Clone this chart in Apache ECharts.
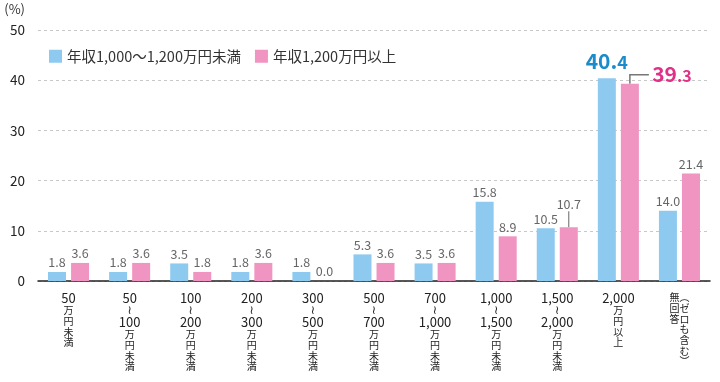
<!DOCTYPE html>
<html><head><meta charset="utf-8">
<script src="https://cdn.jsdelivr.net/npm/echarts@6/dist/echarts.min.js"></script>
<style>html,body{margin:0;padding:0;background:#fff}#c{width:720px;height:382px}</style>
</head><body><div id="c"></div>
<script>
// --- data ---
var categories = [
  ['50', '', '万円未満'],
  ['50', '100', '万円未満'],
  ['100', '200', '万円未満'],
  ['200', '300', '万円未満'],
  ['300', '500', '万円未満'],
  ['500', '700', '万円未満'],
  ['700', '1,000', '万円未満'],
  ['1,000', '1,500', '万円未満'],
  ['1,500', '2,000', '万円未満'],
  ['2,000', '', '万円以上'],
  ['', '', '無回答|︵ゼロも含む︶']
];
var seriesNames = ['年収1,000～1,200万円未満', '年収1,200万円以上'];
var blueValues = [1.8, 1.8, 3.5, 1.8, 1.8, 5.3, 3.5, 15.8, 10.5, 40.4, 14.0];
var pinkValues = [3.6, 3.6, 1.8, 3.6, 0.0, 3.6, 3.6, 8.9, 10.7, 39.3, 21.4];
var yTicks = [0, 10, 20, 30, 40, 50];

var BLUE = '#8ecaef', PINK = '#f094c1', BLUE_T = '#1b8cc9', PINK_T = '#e03088';
var FONT = "'Noto Sans CJK JP', 'Noto Sans', sans-serif";

function catLabel(i) {
  var c = categories[i];
  var parts = [];
  if (c[0] === '' && c[2].indexOf('|') >= 0) {
    var a = c[2].split('|');
    var left = a[0].split(''), right = a[1].split('');
    for (var k = 0; k < right.length; k++) {
      parts.push('{j|' + (left[k] || '　') + right[k] + '}');
    }
    return parts.join('\n');
  }
  parts.push('{n|' + c[0] + '}');
  if (c[1]) { parts.push('{w|≀}'); parts.push('{n|' + c[1] + '}'); }
  c[2].split('').forEach(function (ch) { parts.push('{j|' + ch + '}'); });
  return parts.join('\n');
}

var labelBase = { show: true, position: 'top', distance: 3, color: '#666', fontSize: 12.5, fontFamily: FONT,
  formatter: function (p) { return p.value.toFixed(1); } };

var blueData = blueValues.map(function (v, i) {
  if (i === 9) return { value: v, label: { show: true, distance: 7,
    formatter: '{a|40.}{b|4}', rich: { a: { fontSize: 21, fontWeight: 'bold', color: BLUE_T, fontFamily: FONT }, b: { fontSize: 18, fontWeight: 'bold', color: BLUE_T, fontFamily: FONT, padding: [2,0,0,0] } } } };
  return v;
});
var pinkData = pinkValues.map(function (v, i) {
  if (i === 9) return { value: v, label: { show: true, offset: [42, 4],
    formatter: '{a|39}{b|.3}', rich: { a: { fontSize: 21, fontWeight: 'bold', color: PINK_T, fontFamily: FONT }, b: { fontSize: 16, fontWeight: 'bold', color: PINK_T, fontFamily: FONT, padding: [4,0,0,0] } } } };
  if (i === 8) return { value: v, label: { offset: [0, -14] } };
  return v;
});

var chart = echarts.init(document.getElementById('c'), null, { renderer: 'canvas' });
chart.setOption({
  animation: false,
  textStyle: { fontFamily: FONT },
  legend: {
    left: 44, top: 44, itemWidth: 13, itemHeight: 13, itemGap: 14, icon: 'rect',
    textStyle: { fontSize: 14.5, color: '#333', fontFamily: FONT },
    data: seriesNames
  },
  grid: { left: 38, right: 10, top: 30, bottom: 101 },
  xAxis: {
    type: 'category', data: categories.map(function (c, i) { return i; }),
    axisTick: { show: false },
    axisLine: { lineStyle: { color: '#222', width: 1.5 } },
    axisLabel: {
      interval: 0, margin: 11, color: '#222',
      formatter: function (v, i) { return catLabel(i); },
      rich: {
        n: { fontSize: 13, lineHeight: 13, color: '#222', fontFamily: FONT },
        w: { fontSize: 12, lineHeight: 11, color: '#222', fontFamily: 'DejaVu Sans' },
        j: { fontSize: 10, lineHeight: 10.7, color: '#222', fontFamily: FONT }
      }
    }
  },
  yAxis: {
    type: 'value', min: yTicks[0], max: yTicks[yTicks.length - 1], interval: 10,
    name: '(%)', nameGap: 14,
    nameTextStyle: { align: 'right', padding: [0, 13, 0, 0], color: '#333', fontSize: 13, fontFamily: FONT },
    axisLine: { show: false }, axisTick: { show: false },
    axisLabel: { margin: 13, color: '#222', fontSize: 13.5, fontFamily: FONT },
    splitLine: { lineStyle: { type: [3, 3], color: '#c8c8c8' } }
  },
  series: [
    { name: seriesNames[0], type: 'bar', data: blueData, barWidth: 18, barGap: '28%',
      itemStyle: { color: BLUE }, label: labelBase },
    { name: seriesNames[1], type: 'bar', data: pinkData, barWidth: 18, barGap: '28%',
      itemStyle: { color: PINK }, label: labelBase }
  ]
});

// leader lines, positioned from the library's own bar layout
try {
  var pdata = chart.getModel().getSeriesByIndex(1).getData();
  var l9 = pdata.getItemLayout(9), l8 = pdata.getItemLayout(8);
  var cx9 = l9.x + l9.width / 2, top9 = Math.min(l9.y, l9.y + l9.height);
  var cx8 = l8.x + l8.width / 2, top8 = Math.min(l8.y, l8.y + l8.height);
  chart.setOption({ graphic: [
    { type: 'polyline', shape: { points: [[cx9, top9], [cx9, top9 - 9], [cx9 + 19, top9 - 9]] },
      style: { stroke: '#777', lineWidth: 1.5, fill: null } },
    { type: 'line', shape: { x1: cx8, y1: top8, x2: cx8, y2: top8 - 16 },
      style: { stroke: '#666', lineWidth: 1 } }
  ] });
} catch (e) {}
</script></body></html>
